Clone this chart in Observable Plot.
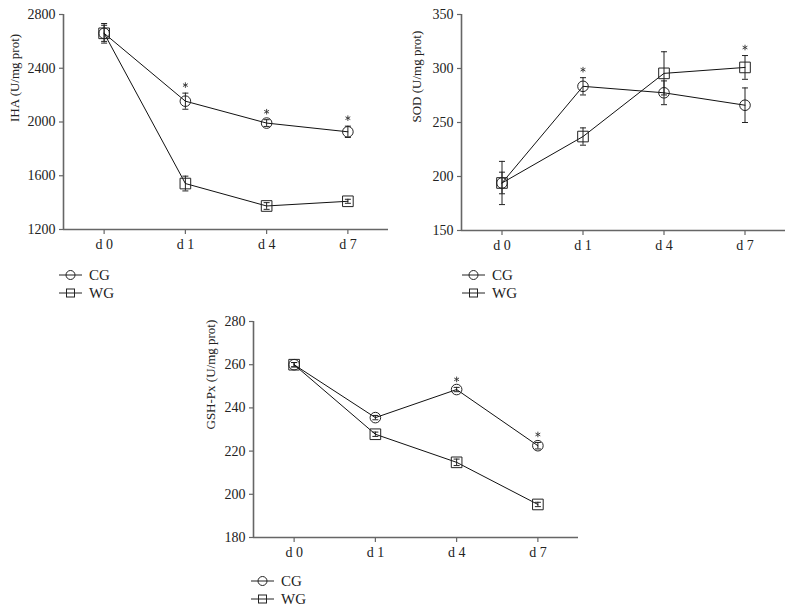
<!DOCTYPE html>
<html>
<head>
<meta charset="utf-8">
<script src="https://cdn.jsdelivr.net/npm/d3@7"></script>
<script src="https://cdn.jsdelivr.net/npm/@observablehq/plot@0.6"></script>
<style>
  html, body { margin: 0; padding: 0; background: #fff; }
  #page { position: relative; width: 794px; height: 613px; overflow: hidden; font-family: 'Liberation Serif', 'Times New Roman', serif; color: #222; }
  .panel { position: absolute; }
  .legend { position: absolute; font-size: 15px; line-height: 18px; }
  .legend .row { display: flex; align-items: center; height: 18px; }
  .legend svg { margin-right: 6px; }
</style>
</head>
<body>
<div id="page"></div>
<script>
// ---------- data ----------
const days = ["d 0", "d 1", "d 4", "d 7"];
const groups = ["CG", "WG"];

// IHA (U/mg prot)
const ihaCG = [2660, 2155, 1992, 1927];
const ihaCGErr = [73, 60, 25, 42];
const ihaWG = [2660, 1542, 1375, 1410];
const ihaWGErr = [60, 55, 25, 15];
const ihaStars = [["CG", "d 1"], ["CG", "d 4"], ["CG", "d 7"]];
const ihaTicks = [1200, 1600, 2000, 2400, 2800];

// SOD (U/mg prot)
const sodCG = [194, 283.5, 277.5, 266];
const sodCGErr = [10, 8, 11, 16];
const sodWG = [194, 237, 295.5, 301];
const sodWGErr = [20, 8, 20, 11];
const sodStars = [["CG", "d 1"], ["WG", "d 7"]];
const sodTicks = [150, 200, 250, 300, 350];

// GSH-Px (U/mg prot)
const gshCG = [260, 235.5, 248.5, 222.5];
const gshCGErr = [1, 1, 1, 1.5];
const gshWG = [260, 227.8, 214.8, 195.3];
const gshWGErr = [1, 1, 1.5, 1];
const gshStars = [["CG", "d 4"], ["CG", "d 7"]];
const gshTicks = [180, 200, 220, 240, 260, 280];

// ---------- helpers ----------
const FONT = "'Liberation Serif', 'Times New Roman', serif";
const capSymbol = {
  draw(context, size) {
    const w = Math.sqrt(size) / 2;
    context.moveTo(-w, 0);
    context.lineTo(w, 0);
  }
};

function rows(cg, cgErr, wg, wgErr) {
  const out = [];
  days.forEach((d, i) => out.push({group: "CG", day: i, v: cg[i], lo: cg[i] - cgErr[i], hi: cg[i] + cgErr[i]}));
  days.forEach((d, i) => out.push({group: "WG", day: i, v: wg[i], lo: wg[i] - wgErr[i], hi: wg[i] + wgErr[i]}));
  return out;
}

function panel(cfg) {
  const data = rows(cfg.cg, cfg.cgErr, cfg.wg, cfg.wgErr);
  const stars = cfg.stars.map(([g, d]) => data.find(r => r.group === g && days[r.day] === d));
  const cg = data.filter(r => r.group === "CG");
  const wg = data.filter(r => r.group === "WG");
  return Plot.plot({
    width: cfg.width,
    height: cfg.height,
    marginLeft: cfg.ml,
    marginRight: cfg.mr,
    marginTop: cfg.mt,
    marginBottom: cfg.mb,
    style: {fontFamily: FONT, fontSize: "14px", background: "transparent", color: "#222"},
    x: {domain: [-0.5, days.length - 0.5]},
    y: {domain: cfg.domain},
    marks: [
      Plot.axisY({ticks: cfg.ticks, tickSize: 4, tickPadding: 4, stroke: "#666", strokeWidth: 1.2,
        label: null, tickFormat: d => String(d), fontSize: 14}),
      Plot.axisX({ticks: days.map((d, i) => i), tickFormat: i => days[i], tickSize: 5, tickPadding: 5,
        stroke: "#666", strokeWidth: 1.2, label: null, fontSize: 14}),
      Plot.ruleX([-0.5], {y1: cfg.domain[0], y2: cfg.domain[1], stroke: "#666", strokeWidth: 1.6}),
      Plot.ruleY([cfg.domain[0]], {x1: -0.5, x2: days.length - 0.5, stroke: "#666", strokeWidth: 1.6}),
      Plot.text([cfg.label], {frameAnchor: "left", rotate: -90, dx: -cfg.labelOffset, fontSize: 13, fill: "#222"}),
      // error bars
      Plot.ruleX(data, {x: "day", y1: "lo", y2: "hi", stroke: "#222", strokeWidth: 1}),
      Plot.dot(data, {x: "day", y: "hi", symbol: capSymbol, r: 3.4, stroke: "#222", strokeWidth: 1}),
      Plot.dot(data, {x: "day", y: "lo", symbol: capSymbol, r: 3.4, stroke: "#222", strokeWidth: 1}),
      // lines
      Plot.line(cg, {x: "day", y: "v", stroke: "#111", strokeWidth: 1}),
      Plot.line(wg, {x: "day", y: "v", stroke: "#111", strokeWidth: 1}),
      // symbols
      Plot.dot(cg, {x: "day", y: "v", symbol: "circle", r: 5.3, stroke: "#222", fill: "none", strokeWidth: 1}),
      Plot.dot(wg, {x: "day", y: "v", symbol: "square", r: 6, stroke: "#222", fill: "none", strokeWidth: 1}),
      // significance
      Plot.dot(stars, {x: "day", y: "hi", symbol: d3.symbolAsterisk, r: 2.6, dy: -8, stroke: "#333", strokeWidth: 0.9, fill: "none"})
    ]
  });
}

function legend(left, top) {
  const div = document.createElement("div");
  div.className = "legend";
  div.style.left = left + "px";
  div.style.top = top + "px";
  groups.forEach(g => {
    const row = document.createElement("div");
    row.className = "row";
    const shape = g === "CG"
      ? '<circle cx="11.5" cy="9" r="4.5" fill="none" stroke="#222"/>'
      : '<rect x="7.5" y="5" width="8" height="8" fill="none" stroke="#222"/>';
    row.innerHTML = '<svg width="24" height="18"><line x1="0" x2="23" y1="9" y2="9" stroke="#222"/>' + shape + '</svg><span>' + g + '</span>';
    div.appendChild(row);
  });
  return div;
}

const page = document.getElementById("page");
function place(node, left, top) {
  const wrap = document.createElement("div");
  wrap.className = "panel";
  wrap.style.left = left + "px";
  wrap.style.top = top + "px";
  wrap.appendChild(node);
  page.appendChild(wrap);
}

place(panel({cg: ihaCG, cgErr: ihaCGErr, wg: ihaWG, wgErr: ihaWGErr, stars: ihaStars,
  domain: [1200, 2800], ticks: ihaTicks, label: "IHA (U/mg prot)", labelOffset: 49,
  width: 400, height: 260, ml: 63, mr: 12, mt: 14, mb: 31}), 0, 0);
place(panel({cg: sodCG, cgErr: sodCGErr, wg: sodWG, wgErr: sodWGErr, stars: sodStars,
  domain: [150, 350], ticks: sodTicks, label: "SOD (U/mg prot)", labelOffset: 45,
  width: 399, height: 260, ml: 66, mr: 9, mt: 14, mb: 30}), 395, 0);
place(panel({cg: gshCG, cgErr: gshCGErr, wg: gshWG, wgErr: gshWGErr, stars: gshStars,
  domain: [180, 280], ticks: gshTicks, label: "GSH-Px (U/mg prot)", labelOffset: 43,
  width: 400, height: 278, ml: 53, mr: 22, mt: 31, mb: 31}), 200, 290);

page.appendChild(legend(59, 266));
page.appendChild(legend(462, 266));
page.appendChild(legend(251, 572));
</script>
</body>
</html>
